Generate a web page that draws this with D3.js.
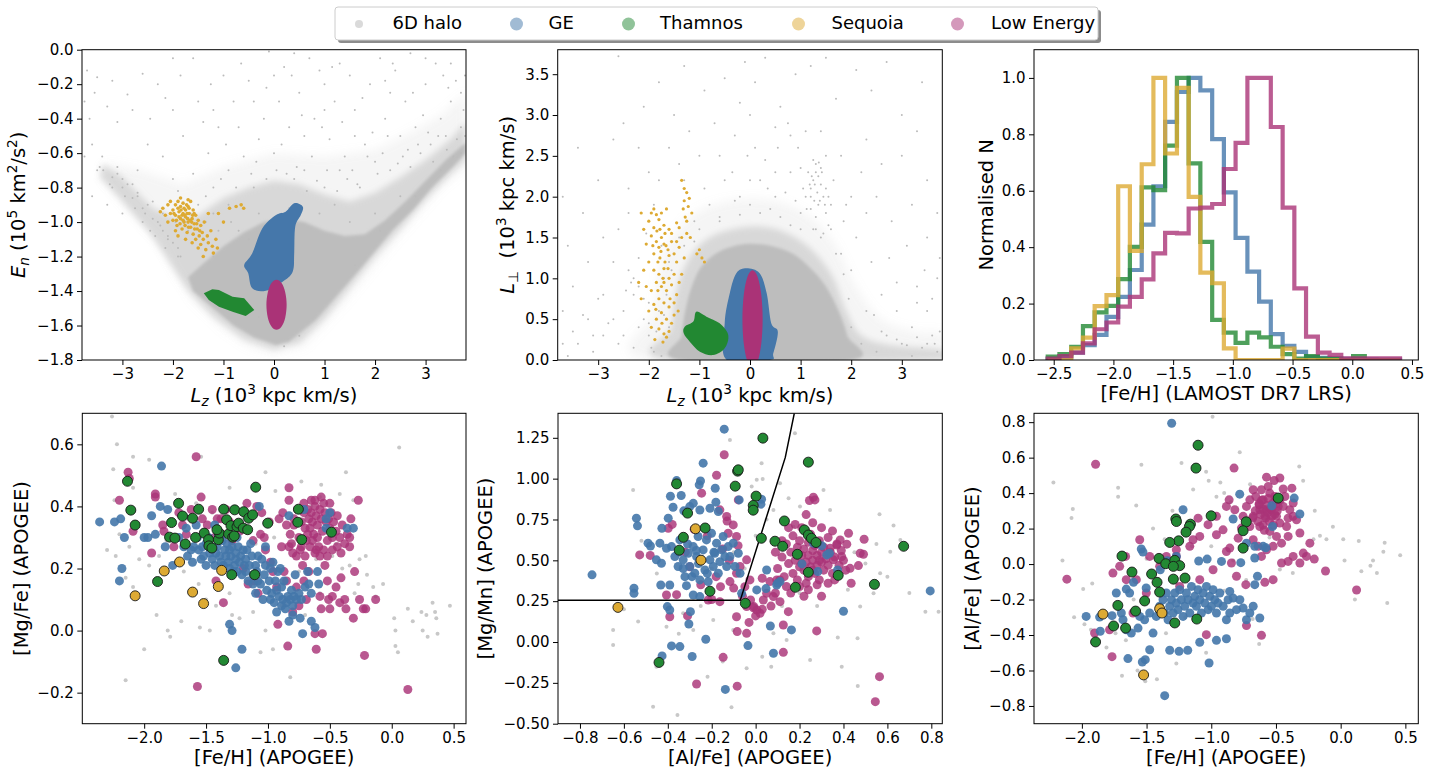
<!DOCTYPE html>
<html><head><meta charset="utf-8">
<script src="https://cdn.jsdelivr.net/npm/d3@7"></script>
<style>body{margin:0;background:#fff;}svg{display:block;font-family:"DejaVu Sans",sans-serif;}</style>
</head><body><svg id="c" width="1432" height="776"></svg>
<script>
// ---------------- DATA ----------------
const legendLabels = ["6D halo","GE","Thamnos","Sequoia","Low Energy"];

// histogram (LAMOST [Fe/H]) shared bin edges and normalised counts
const histEdges = [-2.55,-2.452,-2.353,-2.255,-2.157,-2.058,-1.960,-1.862,-1.763,-1.665,-1.567,-1.468,-1.370,-1.272,-1.173,-1.075,-0.977,-0.878,-0.780,-0.682,-0.583,-0.485,-0.387,-0.288,-0.190,-0.092,0.007,0.105,0.203,0.302,0.40];
const histGE = [0.005,0.012,0.026,0.053,0.089,0.153,0.224,0.319,0.48,0.616,0.844,0.95,1.0,0.956,0.783,0.594,0.433,0.313,0.207,0.092,0.05,0.029,0.01,0.008,0.006,0.004,0.003,0.002,0.001,0.001];
const histThamnos = [0.012,0.021,0.047,0.12,0.169,0.192,0.287,0.401,0.612,0.602,0.76,1.0,0.697,0.419,0.142,0.097,0.061,0.097,0.080,0.047,0.021,0.005,0.014,0.005,0.005,0,0.014,0,0,0];
const histSequoia = [0,0,0.041,0.079,0.191,0.23,0.616,0.387,0.694,1.0,0.732,0.965,0.578,0.31,0.272,0.041,0,0,0,0,0.04,0,0,0,0,0,0,0,0,0];
const histLowEnergy = [0.005,0.014,0.026,0.059,0.109,0.133,0.189,0.224,0.286,0.378,0.451,0.449,0.537,0.54,0.553,0.677,0.77,1.0,1.0,0.826,0.54,0.254,0.083,0.026,0.018,0.006,0.006,0.006,0.006,0.006];

// tick labels
const ticksTLx = [-3,-2,-1,0,1,2,3], ticksTLy = [0,-0.2,-0.4,-0.6,-0.8,-1.0,-1.2,-1.4,-1.6,-1.8];
const ticksTMx = [-3,-2,-1,0,1,2,3], ticksTMy = [0,0.5,1.0,1.5,2.0,2.5,3.0,3.5];
const ticksTRx = [-2.5,-2.0,-1.5,-1.0,-0.5,0.0,0.5], ticksTRy = [0,0.2,0.4,0.6,0.8,1.0];
const ticksBLx = [-2.0,-1.5,-1.0,-0.5,0.0,0.5], ticksBLy = [-0.2,0.0,0.2,0.4,0.6];
const ticksBMx = [-0.8,-0.6,-0.4,-0.2,0.0,0.2,0.4,0.6,0.8], ticksBMy = [-0.5,-0.25,0,0.25,0.5,0.75,1.0,1.25];
const ticksBRx = [-2.0,-1.5,-1.0,-0.5,0.0,0.5], ticksBRy = [-0.8,-0.6,-0.4,-0.2,0.0,0.2,0.4,0.6,0.8];

// ---- top-left: E_n vs Lz (halo density outlines: sparse / medium / dense) ----
const tlHaloOuter = [[-0.03,-1.76],[0.6,-1.72],[1.4,-1.46],[2.35,-1.12],[3.3,-0.8],[3.8,-0.68],[3.8,-0.25],[3.3,-0.38],[2.7,-0.48],[2.0,-0.58],[1.0,-0.62],[0.0,-0.6],[-1.0,-0.68],[-1.8,-0.78],[-2.6,-0.7],[-3.3,-0.66],[-3.4,-0.74],[-2.9,-0.92],[-2.3,-1.1],[-2.0,-1.27],[-1.6,-1.45],[-1.0,-1.62],[-0.5,-1.72]];
const tlHaloMid = [[0.0,-1.74],[0.5,-1.70],[1.0,-1.56],[1.5,-1.38],[2.0,-1.2],[2.5,-1.04],[3.0,-0.87],[3.5,-0.72],[3.8,-0.64],[3.8,-0.42],[3.5,-0.52],[3.0,-0.64],[2.5,-0.74],[2.0,-0.83],[1.5,-0.88],[1.0,-0.84],[0.5,-0.78],[0.0,-0.76],[-0.5,-0.8],[-1.0,-0.86],[-1.5,-0.96],[-1.9,-0.98],[-2.4,-0.92],[-3.0,-0.74],[-3.4,-0.66],[-3.45,-0.74],[-3.0,-0.88],[-2.5,-1.05],[-2.1,-1.22],[-1.7,-1.40],[-1.2,-1.55],[-0.6,-1.68]];
const tlHaloCore = [[0.04,-1.713],[0.30,-1.694],[0.83,-1.568],[1.29,-1.413],[1.69,-1.278],[2.02,-1.162],[2.35,-1.046],[2.75,-0.93],[3.14,-0.795],[3.54,-0.679],[3.79,-0.601],[3.79,-0.54],[3.4,-0.64],[3.0,-0.76],[2.6,-0.88],[2.2,-0.99],[1.8,-1.07],[1.4,-1.08],[1.0,-1.05],[0.6,-1.0],[0.2,-0.98],[-0.2,-1.0],[-0.6,-1.06],[-1.0,-1.14],[-1.4,-1.24],[-1.7,-1.32],[-1.6,-1.40],[-1.2,-1.50],[-0.8,-1.60],[-0.4,-1.67]];
const tlHaloPoints = [[-3.7,-0.12],[-3.5,-0.16],[-3.3,-0.33],[-3.6,-0.55],[-3.4,-0.62],[-3.1,-0.42],[-2.9,-0.26],[-2.6,-0.14],[-2.3,-0.2],[-2.0,-0.35],[-1.8,-0.5],[-2.5,-0.55],[-2.7,-0.7],[-3.0,-0.75],[-3.2,-0.8],[-2.2,-0.62],[-1.6,-0.72],[-1.3,-0.6],[-1.1,-0.45],[-0.8,-0.3],[-0.5,-0.18],[-0.1,-0.01],[0.2,-0.1],[0.5,-0.25],[0.8,-0.4],[1.1,-0.52],[1.4,-0.62],[1.6,-0.35],[1.9,-0.2],[2.1,-0.05],[2.4,-0.12],[2.6,-0.3],[2.8,-0.45],[3.0,-0.2],[3.2,-0.08],[3.5,-0.3],[3.7,-0.45],[3.6,-0.18],[3.3,-0.4],[2.9,-0.6],[2.5,-0.5],[2.2,-0.4],[1.8,-0.55],[1.5,-0.15],[1.2,-0.3],[0.9,-0.12],[0.6,-0.5],[0.3,-0.45],[0.0,-0.6],[-0.3,-0.52],[-0.6,-0.62],[-0.9,-0.7],[-1.2,-0.8],[-1.5,-0.9],[-1.9,-0.82],[-2.4,-0.88],[-2.6,-1.0],[-2.1,-1.1],[-1.9,-1.2],[-1.2,-0.95],[-0.4,-0.8],[0.4,-0.75],[1.0,-0.8],[1.3,-0.7],[1.7,-0.8],[2.3,-0.7],[2.7,-0.68],[3.1,-0.55],[3.4,-0.5],[3.7,-0.6],[-3.5,-0.7],[-3.3,-0.9],[-3.0,-0.95],[-2.8,-0.78],[0.7,-0.05],[1.0,-0.2],[-1.0,-0.15],[-1.5,-0.3],[-2.0,-0.05],[2.0,-0.65],[1.6,-0.5],[0.1,-0.3],[-0.2,-0.4],[-0.7,-0.45],[3.75,-0.35],[3.78,-0.5],[3.5,-0.08],[2.7,-0.02],[-1.6,-0.05],[-0.9,-0.9],[0.6,-0.7],[1.2,-0.9],[-2.7,-0.85],[-3.1,-0.68],[-2.2,-0.95],[-1.7,-1.05],[-1.2,-1.2],[-0.7,-1.05],[-0.5,-1.1],[1.6,-1.25],[2.1,-1.05],[2.8,-0.85],[3.3,-0.7],[-1.0,-1.45],[-0.3,-1.55],[0.5,-1.66],[0.2,-1.72],[-3.2,-0.74],[-3.0,-0.8],[-2.8,-0.86],[-2.6,-0.92],[-2.4,-0.98],[-2.2,-1.05],[-2.0,-1.12],[-1.85,-1.2],[-3.1,-0.72],[-2.9,-0.78],[-2.7,-0.83],[-2.5,-0.9],[-2.3,-1.0],[-2.1,-1.08],[-1.9,-1.15],[-3.45,-0.68],[-3.65,-0.4],[-3.75,-0.62],[0.4,-0.02],[1.3,-0.08],[-0.4,-0.3],[2.3,-0.25],[3.45,-0.22],[-3.55,-0.25],[-3.2,-0.18],[-2.8,-0.35],[-2.45,-0.4],[-2.15,-0.28],[-1.85,-0.15],[-1.4,-0.42],[-1.25,-0.2],[-0.95,-0.55],[-0.65,-0.08],[-0.35,-0.65],[-0.15,-0.22],[0.15,-0.55],[0.35,-0.15],[0.55,-0.38],[0.75,-0.62],[0.95,-0.45],[1.15,-0.1],[1.35,-0.42],[1.55,-0.7],[1.75,-0.28],[1.95,-0.48],[2.15,-0.6],[2.35,-0.08],[2.55,-0.62],[2.75,-0.25],[2.95,-0.38],[3.15,-0.65],[3.35,-0.15],[3.55,-0.62],[3.7,-0.25],[3.62,-0.52],[3.42,-0.58],[3.25,-0.5],[3.05,-0.48],[2.85,-0.55],[2.65,-0.58],[2.45,-0.66],[2.25,-0.5],[2.05,-0.72],[1.85,-0.62],[1.65,-0.78],[1.45,-0.75],[1.25,-0.82],[1.05,-0.7],[0.85,-0.76],[0.65,-0.82],[0.45,-0.68],[0.25,-0.72],[0.05,-0.7],[-0.15,-0.75],[-0.45,-0.72],[-0.75,-0.8],[-1.05,-0.75],[-1.35,-0.85],[-1.65,-0.95],[-1.95,-1.0],[-2.25,-1.02],[-2.45,-1.05],[-3.38,-0.7],[-3.25,-0.78],[-2.95,-0.85],[-2.75,-0.92],[-2.55,-0.95],[-2.35,-1.08],[-2.15,-1.15],[-1.35,-1.0],[-1.1,-1.05],[-0.85,-1.0],[-0.3,-0.95],[0.3,-0.92],[0.9,-0.95],[1.5,-1.0],[2.0,-0.95],[2.5,-0.85],[-3.6,-0.85],[-3.75,-0.3],[-2.0,-0.75],[-1.2,-0.35],[0.0,-0.15],[1.0,-0.35],[2.2,-0.18],[3.0,-0.05],[3.78,-0.15]];
const tlGEOutline = [[0.40,-0.891],[0.57,-0.911],[0.53,-0.959],[0.42,-1.027],[0.40,-1.181],[0.37,-1.288],[0.17,-1.346],[-0.16,-1.398],[-0.43,-1.384],[-0.51,-1.297],[-0.59,-1.249],[-0.43,-1.181],[-0.23,-1.036],[0.04,-0.959],[0.23,-0.940]];
const tlThamnosOutline = [[-1.39,-1.413],[-1.22,-1.390],[-1.09,-1.394],[-0.82,-1.433],[-0.59,-1.442],[-0.39,-1.510],[-0.56,-1.545],[-0.82,-1.520],[-1.09,-1.491],[-1.29,-1.452]];
const tlLowEnergyOutline = [[0.25,-1.48],[0.223,-1.408],[0.15,-1.354],[0.05,-1.335],[-0.05,-1.354],[-0.123,-1.408],[-0.15,-1.48],[-0.123,-1.553],[-0.05,-1.606],[0.05,-1.625],[0.15,-1.606],[0.223,-1.553]];
const tlSequoia = [[-2.25,-0.94],[-2.2,-0.92],[-2.15,-0.96],[-2.1,-0.9],[-2.05,-0.95],[-2.05,-0.88],[-2.0,-0.93],[-2.0,-0.99],[-1.95,-0.9],[-1.95,-0.96],[-1.92,-1.02],[-1.9,-0.88],[-1.88,-0.94],[-1.85,-0.98],[-1.85,-0.91],[-1.82,-1.04],[-1.8,-0.95],[-1.8,-0.89],[-1.78,-1.0],[-1.75,-0.93],[-1.75,-0.97],[-1.72,-1.06],[-1.7,-0.91],[-1.7,-1.0],[-1.68,-0.95],[-1.65,-1.03],[-1.65,-0.88],[-1.62,-0.98],[-1.6,-1.07],[-1.6,-0.93],[-1.58,-1.01],[-1.55,-0.96],[-1.55,-1.1],[-1.52,-1.04],[-1.5,-0.99],[-1.48,-1.08],[-1.45,-1.02],[-1.45,-1.13],[-1.42,-1.06],[-1.4,-1.1],[-1.38,-1.0],[-1.35,-1.16],[-1.32,-1.08],[-1.3,-1.12],[-1.25,-1.05],[-1.22,-1.14],[-1.2,-1.18],[-1.15,-1.1],[-1.12,-1.15],[-1.9,-1.08],[-1.75,-1.1],[-1.62,-1.12],[-1.5,-1.15],[-1.4,-1.2],[-2.1,-1.0],[-1.85,-0.86],[-1.7,-0.87],[-1.95,-1.05],[-0.88,-0.92],[-0.75,-0.91],[-0.65,-0.9],[-0.6,-0.92],[-1.1,-0.95],[-1.3,-0.95],[-1.0,-1.0],[-1.78,-0.92],[-1.66,-0.99],[-1.88,-0.97],[-1.72,-0.95],[-1.58,-0.95],[-1.82,-0.96],[-1.76,-1.02],[-1.68,-0.92],[-1.63,-1.0],[-1.9,-0.92],[-1.98,-0.95],[-1.8,-0.99],[-1.73,-0.9],[-1.57,-1.04],[-1.47,-1.05],[-1.77,-0.96],[-1.71,-0.98],[-1.84,-0.93],[-1.69,-1.03],[-1.61,-0.96],[-1.53,-1.01],[-1.93,-0.99],[-1.86,-1.01]];

// ---- top-middle: L_perp vs Lz ----
const tmHaloOuter = [[-2.0,0],[-1.9,0.6],[-1.7,1.3],[-1.2,1.75],[-0.4,1.95],[0.5,1.95],[1.2,1.75],[1.7,1.4],[2.1,0.9],[2.6,0.5],[3.3,0.35],[3.8,0.32],[3.8,0]];
const tmHaloMid = [[-1.6,0],[-1.55,0.4],[-1.45,0.85],[-1.2,1.25],[-0.8,1.5],[-0.2,1.62],[0.4,1.62],[0.9,1.5],[1.3,1.3],[1.65,1.0],[1.9,0.6],[2.2,0.3],[2.8,0.18],[3.8,0.12],[3.8,0]];
const tmHaloCore = [[-1.38,0],[-1.35,0.3],[-1.28,0.6],[-1.15,0.9],[-0.95,1.15],[-0.6,1.33],[-0.1,1.42],[0.4,1.40],[0.85,1.3],[1.2,1.12],[1.5,0.9],[1.75,0.6],[1.92,0.3],[2.0,0]];
const tmHaloPoints = [[-2.6,3.72],[-1.3,3.6],[-0.9,3.3],[-0.5,3.45],[-0.2,3.15],[0.1,3.4],[0.3,3.7],[0.6,3.1],[0.9,3.5],[1.2,3.6],[1.7,3.2],[2.1,3.55],[2.7,3.65],[3.0,3.0],[3.3,2.8],[-1.5,3.0],[-2.2,2.6],[-2.7,2.7],[-3.0,2.2],[-3.3,1.8],[-3.6,1.4],[-3.5,0.9],[-3.2,0.5],[-2.9,0.3],[-3.0,0.75],[-2.7,1.2],[-2.4,1.8],[-2.0,2.3],[-1.6,2.6],[-1.2,2.8],[-0.7,2.9],[-0.3,2.75],[0.1,2.6],[0.5,2.85],[0.8,2.75],[0.75,2.9],[0.55,2.6],[1.0,2.35],[1.4,2.8],[1.8,2.5],[2.2,2.3],[2.5,2.0],[2.8,1.7],[3.2,1.9],[3.5,1.5],[3.7,1.0],[3.5,0.6],[3.2,0.4],[2.9,0.6],[2.6,0.8],[2.4,1.2],[2.1,1.5],[1.9,1.9],[-0.5,2.2],[-0.2,2.0],[0.2,2.2],[0.5,2.0],[0.8,2.3],[-0.8,1.9],[-1.1,1.7],[-1.4,1.5],[-2.3,1.0],[-2.5,0.6],[-2.2,0.4],[-2.6,0.2],[-3.4,0.2],[-3.7,0.6],[-2.0,0.7],[-1.9,1.3],[0.0,1.9],[1.2,2.0],[1.6,1.6],[1.0,1.8],[-1.3,2.2],[-1.9,1.9],[3.6,0.3],[3.4,0.15],[3.0,0.2],[2.6,0.35],[3.7,0.1],[0.3,2.45],[-0.05,2.5],[1.2,2.1],[1.25,2.2],[1.3,2.3],[1.35,2.25],[1.3,2.4],[1.4,2.15],[1.45,2.0],[1.35,1.9],[1.5,1.8],[1.2,1.85],[1.1,2.0],[1.4,2.35],[1.55,1.65],[1.5,2.1],[1.3,1.75],[1.25,1.6],[1.6,1.9],[1.15,2.3],[1.22,2.25],[1.28,2.15],[1.33,2.05],[1.38,1.95],[1.42,2.3],[1.27,1.95],[1.18,2.15],[1.12,1.85],[1.48,1.9],[1.36,2.42],[1.3,1.6],[1.45,1.55],[1.55,2.0],[1.05,2.1],[1.25,2.45],[-2.3,0.8],[-2.2,0.9],[-2.1,0.5],[-2.0,0.3],[-1.9,0.1],[-1.8,0.6],[-1.7,1.0],[-1.6,0.4],[-1.6,1.2],[-2.4,1.1],[-2.35,0.95],[-1.75,1.4],[-3.6,0.05],[-3.1,0.1],[-2.8,0.45],[2.3,0.6],[2.0,1.1],[1.8,1.3],[3.3,0.9],[3.75,0.35],[-0.6,1.75],[0.4,1.85],[0.8,1.65],[-1.1,1.45],[-3.7,0.2],[-3.5,0.35],[-3.3,0.55],[-3.1,0.3],[-2.9,0.8],[-2.7,0.5],[-2.5,0.3],[-2.45,0.85],[-2.3,0.15],[-2.2,1.25],[-2.1,0.75],[-2.05,1.55],[-2.0,0.45],[-1.95,0.15],[-1.85,0.35],[-1.75,0.05],[-1.7,0.55],[-3.2,1.2],[-2.9,1.5],[-2.6,1.6],[-2.4,2.1],[-2.5,2.9],[-1.8,2.2],[-1.4,2.4],[-1.0,2.5],[-0.9,2.1],[-0.6,2.5],[-0.35,2.3],[0.0,2.2],[0.35,2.1],[0.7,2.05],[0.95,2.6],[1.1,2.8],[1.5,2.5],[1.65,2.2],[1.85,1.7],[2.0,2.0],[2.3,1.8],[2.3,2.7],[2.6,2.4],[2.75,1.25],[2.9,0.95],[3.1,1.4],[3.3,0.7],[3.45,1.1],[3.6,0.75],[3.75,1.25],[3.5,2.2],[3.7,1.8],[3.0,2.5],[2.45,0.55],[2.7,0.3],[2.9,0.25],[3.1,0.18],[3.3,0.28],[3.5,0.2],[3.65,0.2],[3.2,0.05],[2.5,0.1],[2.2,0.2],[2.0,0.4],[1.95,0.75],[1.85,1.05],[1.7,1.3],[1.4,1.5],[1.0,1.6],[0.6,1.75],[0.2,1.8],[-0.2,1.78],[-0.6,1.7],[-1.0,1.6],[-1.3,1.4],[-1.55,1.1],[-1.65,0.8],[0.9,1.95],[-0.3,1.95],[0.5,2.3],[-0.1,3.65],[-1.8,3.4],[2.4,3.3],[1.5,3.7],[3.4,3.4],[-3.4,2.6],[-3.7,2.0],[-2.1,3.1],[0.0,3.0]];
const tmGEOutline = [[-0.46,0],[-0.50,0.449],[-0.40,0.817],[-0.27,1.062],[-0.07,1.123],[0.19,1.062],[0.33,0.817],[0.42,0.449],[0.55,0.347],[0.46,0.082],[0.39,0]];
const tmThamnosOutline = [[-1.29,0.408],[-1.12,0.47],[-1.06,0.592],[-0.86,0.531],[-0.60,0.449],[-0.43,0.306],[-0.50,0.143],[-0.73,0.061],[-0.99,0.102],[-1.19,0.225],[-1.31,0.327]];
const tmLowEnergyOutline = [[0.25,0.5],[0.223,0.8],[0.15,1.02],[0.05,1.1],[-0.05,1.02],[-0.123,0.8],[-0.15,0.5],[-0.123,0.2],[-0.05,-0.02],[0.05,-0.1],[0.15,-0.02],[0.223,0.2]];
const tmSequoia = [[-1.35,2.2],[-1.3,2.1],[-1.25,2.05],[-1.2,1.98],[-1.3,1.95],[-1.22,1.88],[-1.15,1.8],[-1.28,1.75],[-1.9,1.85],[-1.95,1.8],[-1.85,1.78],[-2.0,1.7],[-1.8,1.72],[-1.7,1.65],[-1.6,1.6],[-1.55,1.55],[-1.45,1.68],[-1.4,1.62],[-1.35,1.5],[-1.25,1.55],[-1.18,1.5],[-1.75,1.5],[-1.85,1.45],[-1.95,1.52],[-2.05,1.42],[-2.1,1.6],[-1.8,1.38],[-1.7,1.42],[-1.62,1.35],[-1.55,1.45],[-1.5,1.3],[-1.4,1.38],[-1.9,1.3],[-1.78,1.25],[-1.68,1.2],[-1.6,1.28],[-1.45,1.2],[-1.3,1.25],[-2.0,1.2],[-2.1,1.1],[-1.9,1.1],[-1.8,1.05],[-1.7,1.12],[-1.6,1.0],[-1.5,1.05],[-1.85,0.95],[-1.75,0.9],[-1.95,0.85],[-2.05,0.9],[-1.65,0.85],[-1.55,0.92],[-1.45,0.8],[-1.8,0.75],[-1.7,0.7],[-1.9,0.68],[-2.0,0.6],[-1.6,0.65],[-1.5,0.7],[-1.75,0.58],[-1.85,0.5],[-1.65,0.5],[-1.55,0.45],[-1.95,0.4],[-1.8,0.38],[-1.7,0.32],[-1.6,0.35],[-1.88,0.25],[-1.72,0.22],[-1.65,0.28],[-2.15,1.8],[-1.05,1.3],[-0.95,1.25],[-0.9,1.2],[-1.0,1.35],[-1.4,0.95],[-1.35,1.05],[-1.45,1.45],[-2.2,0.95],[-2.15,0.75],[-1.5,0.55],[-1.42,0.6],[-1.58,0.75],[-1.75,1.8],[-1.65,1.85],[-1.32,1.85],[-1.25,1.7],[-1.78,1.6],[-1.68,1.55],[-1.9,1.62],[-1.72,1.0],[-1.82,1.2],[-1.76,1.33],[-1.66,1.4],[-1.84,1.58],[-1.7,0.95],[-1.82,0.85],[-1.62,1.12],[-1.92,1.4],[-1.74,0.45],[-1.86,0.62]];

// ---- bottom-left: [Mg/Fe] vs [Fe/H] ----
const blHalo = [[-2.26,0.69],[-2.22,0.60],[-2.25,0.52],[-2.09,0.56],[-1.96,0.55],[-1.54,0.56],[-1.31,0.46],[-1.02,0.51],[-0.94,0.45],[-0.73,0.48],[-0.57,0.47],[-0.37,0.51],[-0.31,0.42],[0.06,0.59],[-0.07,0.15],[0.02,0.04],[0.03,0.0],[0.13,0.07],[0.17,0.03],[0.25,0.0],[0.29,-0.02],[0.33,0.09],[0.35,0.06],[0.36,0.04],[0.28,0.05],[0.37,-0.01],[0.47,0.08],[0.24,0.06],[0.03,-0.05],[0.05,-0.07],[-2.23,0.24],[-2.15,0.17],[-2.09,0.14],[-2.0,-0.06],[-1.90,0.05],[-1.81,0.0],[-1.79,-0.02],[-1.70,0.03],[-1.55,0.01],[-1.47,0.0],[-1.42,0.08],[-1.29,0.05],[-1.23,0.04],[-1.06,-0.07],[-1.02,0.0],[-0.96,-0.06],[-0.82,-0.15],[-0.58,0.12],[-0.27,0.15],[-0.20,0.18],[-0.15,0.14],[-0.13,0.11],[-2.12,0.27],[-2.04,0.23],[-1.96,0.21],[-1.88,0.24],[-2.15,-0.16],[-1.68,0.19],[-1.56,0.15],[-0.75,0.19],[-0.61,0.23],[-0.48,0.24],[-0.34,0.21],[-0.26,0.23],[-0.21,0.24],[-0.42,0.44],[-0.58,0.43],[-1.82,0.29],[-1.50,0.10],[-1.31,0.12],[-1.12,0.06],[-0.89,0.08],[-2.24,0.42],[-2.09,0.46],[-1.4,0.30],[-1.1,0.28],[-0.95,0.30],[-1.2,0.36],[-0.9,0.16],[-0.7,0.05],[-0.4,0.20],[-0.3,0.12],[-2.3,0.26],[-2.2,0.31],[-1.65,0.36],[-1.45,0.38],[-1.0,0.34],[-0.8,0.28],[-0.5,0.30],[-0.45,0.28],[-0.65,0.40],[-1.75,0.44],[-1.58,0.41]];
const blGE = [[-2.36,0.35],[-2.24,0.35],[-2.19,0.36],[-2.16,0.30],[-2.18,0.20],[-2.20,0.16],[-2.0,0.30],[-1.97,0.30],[-1.91,0.31],[-1.94,0.37],[-1.87,0.40],[-1.86,0.53],[-1.81,0.39],[-1.83,0.27],[-1.77,0.21],[-1.72,0.30],[-1.68,0.27],[-1.66,0.33],[-1.65,0.24],[-1.62,0.26],[-1.61,0.22],[-1.60,0.27],[-1.58,0.34],[-1.57,0.30],[-1.56,0.26],[-1.54,0.23],[-1.53,0.27],[-1.52,0.24],[-1.50,0.28],[-1.50,0.21],[-1.47,0.25],[-1.46,0.27],[-1.45,0.23],[-1.43,0.34],[-1.43,0.21],[-1.42,0.25],[-1.41,0.27],[-1.39,0.24],[-1.38,0.22],[-1.37,0.29],[-1.36,0.21],[-1.35,0.26],[-1.34,0.24],[-1.33,0.28],[-1.32,0.22],[-1.31,0.20],[-1.31,0.26],[-1.30,0.24],[-1.29,0.27],[-1.27,0.21],[-1.26,0.23],[-1.26,0.25],[-1.25,0.19],[-1.25,0.30],[-1.24,0.27],[-1.23,0.22],[-1.22,0.24],[-1.21,0.18],[-1.20,0.26],[-1.19,0.21],[-1.18,0.19],[-1.18,0.23],[-1.17,0.26],[-1.16,0.16],[-1.15,0.21],[-1.13,0.24],[-1.12,0.18],[-1.12,0.15],[-1.10,0.21],[-1.10,0.12],[-1.09,0.19],[-1.08,0.24],[-1.08,0.16],[-1.07,0.40],[-1.06,0.15],[-1.04,0.10],[-1.03,0.18],[-1.02,0.21],[-1.02,0.27],[-1.01,0.13],[-0.99,0.16],[-0.98,0.10],[-0.98,0.20],[-0.97,0.12],[-0.96,0.22],[-0.95,0.09],[-0.94,0.16],[-0.93,0.13],[-0.92,0.19],[-0.91,0.11],[-0.89,0.08],[-0.89,0.14],[-0.88,0.10],[-0.87,0.16],[-0.86,0.07],[-0.85,0.09],[-0.84,0.11],[-0.83,0.03],[-0.83,0.37],[-0.82,0.10],[-0.81,0.13],[-0.80,0.08],[-0.79,0.11],[-0.78,0.18],[-0.77,0.10],[-0.75,0.12],[-0.74,0.04],[-0.73,0.10],[-0.72,-0.01],[-0.71,0.39],[-0.70,0.14],[-0.68,0.19],[-0.67,0.15],[-0.65,0.12],[-0.65,0.03],[-0.62,0.01],[-0.60,0.19],[-0.59,0.15],[-0.53,0.36],[-0.53,0.33],[-0.50,0.38],[-0.36,0.33],[-0.31,0.33],[-1.31,0.02],[-1.29,0.0],[-1.21,-0.06],[-1.26,-0.12],[-1.48,0.30],[-1.40,0.31],[-1.28,0.19],[-1.14,0.28],[-1.05,0.23],[-0.93,0.06],[-0.80,0.05],[-0.90,0.20]];
const blLowEnergy = [[-2.13,0.51],[-2.12,0.49],[-2.20,0.42],[-2.09,0.32],[-1.94,0.25],[-1.91,0.44],[-1.91,0.43],[-1.85,0.34],[-1.84,0.32],[-1.77,0.30],[-1.76,0.27],[-1.72,0.38],[-1.69,0.34],[-1.66,0.31],[-1.62,0.39],[-1.61,0.36],[-1.58,0.56],[-1.57,-0.18],[-1.54,0.43],[-1.53,0.36],[-1.49,0.34],[-1.45,0.39],[-1.43,0.30],[-1.42,0.16],[-1.41,0.36],[-1.38,0.36],[-1.37,0.31],[-1.36,0.09],[-1.34,0.39],[-1.31,0.35],[-1.29,0.29],[-1.23,0.32],[-1.20,0.20],[-1.17,0.41],[-1.16,0.15],[-1.12,0.29],[-1.11,0.16],[-1.09,0.40],[-1.08,0.12],[-1.06,0.31],[-1.05,0.38],[-1.03,0.30],[-1.02,0.26],[-0.99,0.35],[-0.98,0.22],[-0.96,0.19],[-0.93,0.14],[-0.92,0.02],[-0.91,0.36],[-0.89,0.27],[-0.87,0.19],[-0.85,0.16],[-0.84,-0.05],[-0.83,0.46],[-0.83,0.42],[-0.81,0.28],[-0.80,0.06],[-0.79,0.34],[-0.77,0.14],[-0.75,0.08],[-0.73,0.27],[-0.73,0.39],[-0.72,0.21],[-0.71,0.16],[-0.69,0.10],[-0.67,0.19],[-0.65,0.42],[-0.62,-0.01],[-0.61,-0.06],[-0.61,0.26],[-0.58,0.11],[-0.57,0.07],[-0.56,-0.01],[-0.54,0.21],[-0.52,0.16],[-0.51,0.10],[-0.50,0.07],[-0.48,0.11],[-0.45,0.14],[-0.42,0.09],[-0.41,0.17],[-0.38,0.10],[-0.37,0.07],[-0.34,0.30],[-0.31,0.04],[-0.30,0.19],[-0.27,0.42],[-0.26,0.10],[-0.23,0.07],[-0.22,-0.08],[-0.21,0.07],[-0.13,0.10],[0.13,-0.19],[-0.88,0.38],[-0.85,0.34],[-0.82,0.31],[-0.79,0.36],[-0.76,0.39],[-0.75,0.30],[-0.73,0.35],[-0.71,0.38],[-0.70,0.33],[-0.69,0.29],[-0.68,0.39],[-0.67,0.36],[-0.66,0.33],[-0.65,0.38],[-0.64,0.35],[-0.63,0.31],[-0.62,0.40],[-0.61,0.37],[-0.60,0.34],[-0.59,0.27],[-0.58,0.39],[-0.57,0.36],[-0.56,0.32],[-0.55,0.41],[-0.54,0.38],[-0.53,0.35],[-0.52,0.29],[-0.51,0.36],[-0.50,0.33],[-0.49,0.38],[-0.48,0.30],[-0.47,0.35],[-0.45,0.32],[-0.44,0.37],[-0.42,0.30],[-0.40,0.34],[-0.38,0.28],[-0.36,0.31],[-0.34,0.27],[-0.33,0.36],[-0.83,0.27],[-0.80,0.25],[-0.77,0.24],[-0.74,0.26],[-0.70,0.24],[-0.66,0.27],[-0.62,0.25],[-0.58,0.24],[-0.55,0.26],[-0.52,0.24],[-0.48,0.26],[-0.44,0.27],[-0.41,0.25],[-0.62,0.42],[-0.57,0.43],[-0.50,0.41],[-0.71,0.41],[-0.64,0.29],[-0.60,0.30],[-0.68,0.31]];
const blThamnos = [[-2.135,0.481],[-2.108,0.388],[-2.073,0.340],[-1.892,0.158],[-1.795,0.301],[-1.779,0.348],[-1.752,0.298],[-1.722,0.410],[-1.690,0.369],[-1.668,0.279],[-1.609,0.362],[-1.585,0.300],[-1.560,0.391],[-1.515,0.314],[-1.480,0.293],[-1.477,0.273],[-1.453,0.266],[-1.401,0.293],[-1.393,0.314],[-1.412,0.325],[-1.358,0.391],[-1.334,0.357],[-1.318,0.311],[-1.299,0.338],[-1.285,0.301],[-1.269,0.389],[-1.272,0.305],[-1.250,0.335],[-1.237,0.346],[-1.196,0.383],[-1.199,0.330],[-1.164,0.325],[-1.156,0.362],[-1.124,0.373],[-1.099,0.462],[-1.107,0.180],[-1.293,0.180],[-1.358,-0.096],[-1.002,0.346],[-0.754,0.391],[-0.759,0.349],[-0.727,0.293],[-0.487,0.317]];
const blSequoia = [[-2.073,0.112],[-1.838,0.192],[-1.714,0.221],[-1.609,0.124],[-1.520,0.087],[-1.401,0.142],[-1.374,0.194]];

// ---- bottom-middle: [Mg/Mn] vs [Al/Fe] ----
const bmBoundaryX = [-0.9,-0.07,0.135,0.176];
const bmBoundaryY = [0.255,0.255,1.13,1.40];
const bmHalo = [[-0.558,0.931],[-0.649,0.073],[-0.649,-0.018],[-0.535,0.125],[-0.467,-0.396],[-0.356,-0.447],[-0.452,-0.151],[-0.219,-0.212],[-0.110,-0.400],[-0.041,-0.161],[0.030,-0.090],[0.071,-0.151],[0.179,1.278],[0.027,1.094],[0.032,0.998],[0.309,0.931],[0.465,-0.269],[0.464,0.023],[0.374,0.027],[0.392,-0.151],[0.564,0.782],[0.628,0.713],[0.773,0.186],[0.833,0.186],[0.005,0.993],[-0.018,0.952],[0.111,0.972],[-0.117,1.237],[-0.406,0.094],[-0.330,0.176],[-0.284,0.074],[-0.193,0.135],[-0.102,0.074],[0.081,0.053],[0.141,0.012],[0.248,-0.110],[0.476,0.217],[0.537,0.298],[0.567,0.421],[0.613,0.553],[0.659,0.625],[0.202,0.829],[0.339,0.808],[0.081,0.808],[0.172,0.706],[-0.3,0.6],[-0.2,0.45],[-0.1,0.55],[0.2,0.5],[0.3,0.6],[0.45,0.55],[0.5,0.48],[0.55,0.6],[-0.45,0.42],[-0.6,0.2],[0.0,0.65],[0.05,0.75],[-0.52,0.62],[-0.25,0.22],[0.12,0.22],[0.42,0.32],[0.6,0.4],[0.7,0.3],[-0.05,0.45],[0.15,0.88],[-0.35,0.05],[-0.15,-0.12],[0.2,0.3],[0.28,0.22]];
const bmGE = [[-0.745,0.411],[-0.143,1.303],[-0.239,1.095],[-0.257,0.962],[-0.251,0.986],[-0.184,0.941],[-0.388,0.892],[-0.360,0.988],[-0.339,0.897],[-0.376,0.825],[-0.327,0.803],[-0.300,0.829],[-0.543,0.758],[-0.538,0.711],[-0.398,0.758],[-0.427,0.696],[-0.284,0.849],[-0.254,0.808],[-0.208,0.819],[-0.181,0.856],[-0.170,0.799],[-0.075,0.870],[0.027,0.874],[0.024,0.844],[-0.490,0.605],[-0.479,0.588],[-0.452,0.503],[-0.429,0.482],[-0.436,0.605],[-0.406,0.574],[-0.383,0.584],[-0.368,0.523],[-0.353,0.462],[-0.345,0.625],[-0.330,0.503],[-0.322,0.400],[-0.307,0.543],[-0.300,0.462],[-0.284,0.584],[-0.277,0.421],[-0.269,0.523],[-0.262,0.646],[-0.254,0.380],[-0.246,0.503],[-0.239,0.564],[-0.231,0.441],[-0.224,0.625],[-0.216,0.370],[-0.208,0.503],[-0.201,0.666],[-0.193,0.462],[-0.186,0.543],[-0.178,0.605],[-0.170,0.421],[-0.163,0.492],[-0.155,0.564],[-0.148,0.646],[-0.140,0.523],[-0.132,0.462],[-0.125,0.584],[-0.117,0.523],[-0.102,0.605],[-0.094,0.462],[-0.079,0.543],[-0.071,0.421],[-0.064,0.298],[-0.391,0.349],[-0.315,0.345],[-0.284,0.288],[-0.254,0.278],[-0.554,0.329],[-0.554,0.298],[-0.432,0.349],[-0.402,0.217],[-0.391,0.196],[-0.297,0.186],[-0.304,0.110],[-0.345,-0.028],[-0.383,-0.024],[-0.426,-0.085],[-0.289,-0.089],[-0.227,0.017],[-0.138,-0.290],[-0.035,-0.022],[0.005,0.319],[0.047,0.327],[0.100,0.360],[0.111,0.370],[0.050,0.441],[0.096,0.349],[0.067,0.098],[0.163,0.074],[0.081,-0.069],[0.400,0.188],[0.795,0.313],[0.211,0.478],[0.263,0.605],[0.283,0.431],[0.324,0.533],[0.336,0.543],[0.301,0.590],[0.373,0.441],[-0.33,0.45],[-0.29,0.40],[-0.26,0.48],[-0.22,0.42],[-0.35,0.55],[-0.31,0.60],[-0.27,0.56],[-0.19,0.55]];
const bmLowEnergy = [[-0.143,1.146],[-0.178,1.021],[-0.246,0.911],[-0.079,0.870],[-0.398,0.696],[-0.132,0.768],[-0.102,0.717],[-0.087,0.646],[-0.163,0.809],[-0.125,0.666],[-0.528,0.533],[-0.406,0.288],[-0.391,0.155],[-0.216,0.257],[-0.163,0.247],[-0.160,0.339],[-0.117,0.370],[-0.087,0.421],[-0.071,0.462],[-0.041,0.503],[-0.049,0.339],[-0.026,0.380],[-0.023,0.257],[-0.008,0.217],[0.005,0.196],[0.020,0.176],[0.035,0.257],[0.050,0.298],[0.065,0.370],[-0.041,0.217],[-0.087,0.155],[-0.084,0.064],[-0.041,0.053],[-0.148,-0.094],[-0.269,-0.257],[-0.084,-0.270],[0.081,0.278],[0.111,0.247],[0.149,0.186],[0.126,0.104],[0.126,-0.063],[0.278,0.068],[0.096,0.380],[0.245,0.866],[0.263,0.886],[0.564,-0.212],[0.545,-0.365],[0.491,0.537],[0.476,0.543],[0.435,0.360],[0.415,0.599],[0.423,0.666],[0.385,0.625],[0.370,0.594],[0.339,0.574],[0.494,0.629],[0.430,0.451],[0.392,0.523],[0.354,0.503],[0.468,0.468],[0.10,0.45],[0.12,0.52],[0.13,0.40],[0.14,0.60],[0.15,0.48],[0.16,0.55],[0.17,0.42],[0.17,0.65],[0.18,0.50],[0.19,0.58],[0.19,0.38],[0.20,0.46],[0.20,0.62],[0.21,0.53],[0.21,0.70],[0.22,0.44],[0.22,0.57],[0.23,0.49],[0.23,0.36],[0.24,0.61],[0.24,0.53],[0.25,0.46],[0.25,0.66],[0.26,0.56],[0.26,0.50],[0.27,0.42],[0.27,0.59],[0.28,0.53],[0.28,0.47],[0.29,0.62],[0.29,0.38],[0.30,0.55],[0.30,0.49],[0.31,0.44],[0.31,0.58],[0.32,0.51],[0.33,0.64],[0.33,0.47],[0.34,0.55],[0.35,0.42],[0.36,0.52],[0.37,0.60],[0.38,0.47],[0.39,0.56],[0.40,0.50],[0.14,0.34],[0.16,0.30],[0.20,0.34],[0.24,0.32],[0.28,0.35],[0.33,0.36],[0.12,0.62],[0.18,0.72],[0.26,0.73],[0.30,0.70],[0.35,0.68],[0.09,0.55],[0.11,0.38],[0.27,0.87],[0.23,0.78],[0.15,0.70],[0.36,0.38],[0.41,0.44],[0.09,0.30],[0.22,0.28],[0.30,0.28],[0.26,0.44],[0.24,0.40],[0.29,0.50],[0.21,0.48],[-0.28,0.69],[-0.22,0.65],[-0.15,0.57],[-0.12,0.50],[-0.18,0.40],[-0.25,0.35],[-0.32,0.55],[-0.38,0.72],[-0.48,0.53],[-0.30,0.46],[-0.10,0.33],[-0.06,0.28],[-0.01,0.21],[0.00,0.16],[0.03,0.20],[-0.03,0.12],[0.07,0.22],[0.03,0.39],[-0.08,0.59],[-0.13,0.74],[-0.36,0.29],[-0.31,0.16],[-0.2,0.26]];
const bmThamnos = [[0.033,1.248],[0.240,1.101],[-0.082,1.046],[-0.079,1.054],[-0.093,0.954],[-0.360,0.968],[0.002,0.893],[-0.011,0.836],[-0.011,0.807],[-0.310,0.789],[-0.230,0.698],[-0.329,0.641],[0.131,0.741],[0.026,0.635],[0.088,0.617],[0.123,0.586],[0.222,0.686],[0.240,0.655],[0.254,0.635],[0.275,0.609],[0.190,0.537],[-0.348,0.562],[0.240,0.427],[0.181,0.335],[0.376,0.408],[-0.208,0.311],[-0.047,0.237],[0.541,0.353],[0.674,0.586],[-0.440,-0.125]];
const bmSequoia = [[-0.274,0.693],[-0.249,0.501],[-0.627,0.212]];

// ---- bottom-right: [Al/Fe] vs [Fe/H] ----
const brHalo = [[-2.22,0.46],[-2.07,0.31],[-2.08,0.26],[-2.15,0.02],[-1.72,0.43],[-1.72,0.38],[-1.54,0.56],[-1.58,0.33],[-1.23,0.57],[-0.99,0.83],[-0.78,0.63],[-1.04,0.52],[-1.02,0.47],[-0.32,0.55],[-0.29,0.47],[-0.16,0.16],[0.14,0.13],[0.03,0.02],[0.25,0.02],[0.33,0.07],[0.34,0.12],[0.46,0.05],[0.28,-0.05],[0.16,-0.04],[0.36,-0.22],[0.11,-0.20],[-2.06,-0.30],[-1.98,-0.34],[-1.93,-0.37],[-1.81,-0.47],[-1.69,-0.63],[-1.57,-0.60],[-1.42,-0.65],[-1.51,-0.66],[-1.27,-0.56],[-1.04,-0.50],[-0.63,-0.45],[-0.68,-0.31],[-1.99,-0.14],[-1.92,-0.11],[-1.50,0.03],[-1.36,0.14],[-1.15,0.10],[-1.14,0.42],[-0.96,0.38],[-0.93,0.46],[-0.21,0.14],[-0.11,0.14],[-0.06,0.21],[0.02,0.14],[0.23,-0.01],[-0.47,-0.03],[-0.37,-0.05],[-0.73,-0.09],[-0.83,0.02],[-1.27,-0.11],[-1.35,-0.39],[-1.74,-0.39],[-1.66,-0.43],[-0.9,0.4],[-0.85,0.35],[-0.7,0.45],[-1.3,0.3],[-1.45,0.2],[-1.6,-0.2],[-1.2,-0.3],[-0.9,-0.15],[-0.55,0.15],[-0.45,0.35],[-0.2,0.3],[-1.0,0.1]];
const brGE = [[-1.306,0.794],[-1.218,0.306],[-1.541,0.085],[-1.528,0.068],[-1.503,-0.135],[-1.601,-0.103],[-1.657,-0.141],[-1.631,-0.163],[-1.734,-0.163],[-1.863,-0.299],[-1.967,-0.295],[-1.858,-0.379],[-1.767,-0.291],[-1.695,-0.276],[-1.682,-0.314],[-1.657,-0.370],[-1.618,-0.389],[-1.566,-0.361],[-1.553,-0.295],[-1.515,-0.314],[-1.476,-0.276],[-1.450,-0.389],[-1.425,-0.295],[-1.399,-0.238],[-1.373,-0.201],[-1.360,-0.276],[-1.347,-0.163],[-1.334,-0.314],[-1.321,-0.238],[-1.308,-0.201],[-1.295,-0.276],[-1.282,-0.163],[-1.270,-0.220],[-1.257,-0.257],[-1.244,-0.145],[-1.231,-0.201],[-1.218,-0.295],[-1.205,-0.238],[-1.192,-0.163],[-1.179,-0.201],[-1.166,-0.276],[-1.153,-0.126],[-1.141,-0.220],[-1.128,-0.182],[-1.115,-0.238],[-1.102,-0.145],[-1.089,-0.201],[-1.076,-0.276],[-1.063,-0.163],[-1.050,-0.220],[-1.037,-0.126],[-1.024,-0.257],[-1.012,-0.182],[-0.999,-0.238],[-0.986,-0.145],[-0.973,-0.201],[-0.960,-0.276],[-0.947,-0.220],[-0.934,-0.163],[-0.908,-0.238],[-0.883,-0.314],[-0.870,-0.201],[-0.857,-0.276],[-0.831,-0.192],[-0.805,-0.257],[-0.779,-0.201],[-0.754,-0.248],[-0.728,-0.314],[-0.702,-0.276],[-0.676,-0.238],[-0.625,-0.304],[-0.664,-0.116],[-0.643,-0.069],[-0.728,0.118],[-0.772,0.008],[-0.664,0.100],[-0.664,0.034],[-0.599,0.100],[-0.578,0.092],[-0.780,0.394],[-0.831,0.254],[-0.532,0.329],[-0.527,0.212],[-0.359,0.372],[-0.315,0.282],[-1.510,-0.539],[-1.533,-0.552],[-1.360,-0.742],[-1.249,-0.492],[-1.182,-0.486],[-1.089,-0.441],[-1.017,-0.558],[-0.960,-0.430],[-0.883,-0.421],[-1.097,0.017],[-1.032,0.028],[-0.921,0.015],[-0.857,-0.154],[-1.394,-0.032],[-1.340,0.019],[-1.270,0.043],[-1.644,-0.533],[-1.476,-0.483],[-1.321,-0.486]];
const brLowEnergy = [[-1.894,0.563],[-2.116,-0.085],[-0.824,0.541],[-0.573,0.490],[-0.470,0.485],[-0.514,0.471],[-0.444,0.423],[-0.377,0.428],[-0.406,0.259],[-0.238,0.118],[-0.204,0.028],[-0.117,-0.039],[0.123,-0.146],[-0.612,-0.402],[-1.038,-0.398],[-1.767,-0.522],[-1.902,-0.389],[-1.786,-0.370],[-1.605,-0.276],[-1.502,-0.163],[-1.270,0.081],[-1.166,0.100],[-1.244,-0.126],[-1.089,-0.088],[-0.986,-0.032],[-1.089,0.156],[-1.102,0.259],[-1.025,0.222],[-0.960,0.165],[-0.883,0.071],[-0.844,0.006],[-0.805,-0.069],[-0.733,-0.116],[-0.728,-0.347],[-0.638,0.100],[-0.586,-0.103],[-0.522,-0.088],[-0.457,0.006],[-0.406,0.015],[-0.367,0.043],[-0.315,0.006],[-0.289,0.062],[-0.264,0.043],[-0.857,0.090],[-0.909,0.193],[-0.960,0.269],[-0.862,0.362],[-0.883,0.325],[-0.818,0.306],[-0.792,0.146],[-0.767,0.203],[-0.702,0.212],[-0.676,0.269],[-0.656,0.381],[-0.630,0.334],[-0.599,0.362],[-0.573,0.306],[-0.548,0.400],[-0.522,0.344],[-0.496,0.269],[-0.470,0.362],[-0.444,0.325],[-0.418,0.212],[-0.393,0.306],[-0.367,0.344],[-0.341,0.250],[-0.315,0.175],[-0.496,0.156],[-0.548,0.184],[-0.457,0.118],[-0.573,0.081],[-0.612,0.043],[-0.676,0.137],[-0.728,0.325],[-0.754,0.269],[-0.612,0.419],[-0.560,0.438],[-0.509,0.381],[-0.431,0.381],[-0.367,0.269],[-0.702,0.362],[-0.676,0.419],[-0.625,0.306],[-0.586,0.269],[-0.535,0.306],[-0.483,0.325],[-0.470,0.231],[-0.406,0.156],[-0.625,0.212],[-0.522,0.100],[-1.141,0.137],[-1.270,0.043],[-1.347,0.043],[-1.399,-0.013],[-1.476,0.043],[-1.553,0.137],[-1.662,0.043],[-1.708,-0.013],[-1.760,-0.051],[-1.657,-0.088],[-1.579,-0.088],[-0.62,0.28],[-0.60,0.31],[-0.58,0.26],[-0.56,0.29],[-0.55,0.24],[-0.53,0.27],[-0.52,0.22],[-0.60,0.22],[-0.64,0.24],[-0.66,0.30],[-0.63,0.34],[-0.57,0.33],[-0.54,0.31],[-0.51,0.28],[-0.49,0.30],[-0.59,0.19],[-0.68,0.26],[-0.61,0.36],[-0.56,0.37],[-0.50,0.34]];
const brThamnos = [[-1.102,0.670],[-1.118,0.541],[-0.483,0.372],[-0.730,0.238],[-0.754,0.188],[-0.754,0.090],[-1.001,0.272],[-1.161,0.225],[-1.169,0.212],[-1.274,0.254],[-1.269,0.240],[-1.195,0.180],[-1.252,0.131],[-1.321,0.122],[-1.690,0.045],[-1.404,0.032],[-1.352,0.002],[-1.282,0.021],[-1.244,-0.009],[-1.293,-0.013],[-1.293,-0.085],[-1.203,-0.079],[-1.461,-0.056],[-1.613,-0.045],[-1.419,-0.103],[-1.399,-0.158],[-1.515,-0.208],[-1.585,-0.265],[-1.722,-0.233],[-1.755,-0.349],[-1.662,-0.361],[-1.282,-0.332],[-1.112,-0.310],[-1.894,-0.439]];
const brSequoia = [[-1.837,-0.282],[-1.399,-0.252],[-1.381,-0.276],[-1.523,-0.625]];

// ---------------- DRAWING ----------------
const COL = {halo:"#bbbbbb", ge:"#4477AA", th:"#228833", sq:"#DDAA33", le:"#AA3377"};
const svg = d3.select("#c");
const defs = svg.append("defs");
function blurFilter(id, sd) {
  defs.append("filter").attr("id", id).attr("x", "-20%").attr("y", "-20%").attr("width", "140%").attr("height", "140%")
    .append("feGaussianBlur").attr("stdDeviation", sd);
}
blurFilter("blurA", 5); blurFilter("blurM", 3); blurFilter("blurB", 1.5); blurFilter("blurC", 0.6);

let clipN = 0;
function makePanel(left, top, w, h, xd, yd) {
  const g = svg.append("g").attr("transform", `translate(${left},${top})`);
  const id = "clip" + (clipN++);
  defs.append("clipPath").attr("id", id).append("rect").attr("width", w).attr("height", h);
  const c = g.append("g").attr("clip-path", `url(#${id})`);
  const x = d3.scaleLinear().domain(xd).range([0, w]);
  const y = d3.scaleLinear().domain(yd).range([h, 0]);
  return {g, c, x, y, w, h};
}
function axes(p, xt, yt, xf, yf) {
  const ax = p.g.append("g").attr("transform", `translate(0,${p.h})`)
    .call(d3.axisBottom(p.x).tickValues(xt).tickFormat(d3.format(xf)).tickSize(5).tickPadding(3.5).tickSizeOuter(0));
  const ay = p.g.append("g")
    .call(d3.axisLeft(p.y).tickValues(yt).tickFormat(d3.format(yf)).tickSize(5).tickPadding(3.5).tickSizeOuter(0));
  [ax, ay].forEach(a => {
    a.attr("font-family", null).attr("font-size", 15);
    a.select(".domain").remove();
    a.selectAll("line").attr("stroke", "#000").attr("stroke-width", 1);
    a.selectAll("text").attr("fill", "#000");
  });
  p.g.append("rect").attr("width", p.w).attr("height", p.h).attr("fill", "none").attr("stroke", "#000").attr("stroke-width", 1);
}
function rich(t, parts, size) {
  parts.forEach(([s, st]) => {
    const ts = t.append("tspan").text(s);
    if (st.includes("i")) ts.attr("font-style", "italic");
    if (st.includes("sub")) ts.attr("baseline-shift", -4).attr("font-size", size * 0.7);
    if (st.includes("sup")) ts.attr("baseline-shift", 8).attr("font-size", size * 0.7);
  });
}
function xlabel(p, parts, baseY) {
  const t = p.g.append("text").attr("x", p.w / 2).attr("y", baseY).attr("text-anchor", "middle")
    .attr("font-size", 19.5).attr("fill", "#000").style("white-space", "pre");
  rich(t, parts, 19.5);
}
function ylabel(p, parts, baseX) {
  const t = p.g.append("text").attr("transform", `translate(${baseX},${p.h / 2}) rotate(-90)`).attr("text-anchor", "middle")
    .attr("font-size", 19.5).attr("fill", "#000").style("white-space", "pre");
  rich(t, parts, 19.5);
}
function dots(p, data, r, fill, op, stroke) {
  p.c.append("g").selectAll("circle").data(data).join("circle")
    .attr("cx", d => p.x(d[0])).attr("cy", d => p.y(d[1])).attr("r", r)
    .attr("fill", fill).attr("fill-opacity", op)
    .attr("stroke", stroke || "none").attr("stroke-width", stroke ? 0.9 : 0);
}
function area(p, pts, fill, op, filt, curve) {
  const line = d3.line().x(d => p.x(d[0])).y(d => p.y(d[1])).curve(curve || d3.curveLinearClosed);
  const el = p.c.append("path").attr("d", line(pts)).attr("fill", fill).attr("fill-opacity", op);
  if (filt) el.attr("filter", `url(#${filt})`);
}

// ---- Top-left ----
const pTL = makePanel(82, 49.7, 384, 310.3, [-3.8, 3.8], [-1.8, 0]);
area(pTL, tlHaloOuter, COL.halo, 0.15, "blurA");
area(pTL, tlHaloMid, COL.halo, 0.5, "blurM");
area(pTL, tlHaloCore, "#bdbdbd", 1, "blurB");
dots(pTL, tlHaloPoints, 1, COL.halo, 1);
area(pTL, tlGEOutline, COL.ge, 1, "blurC", d3.curveCardinalClosed);
area(pTL, tlThamnosOutline, COL.th, 1, "blurC");
dots(pTL, tlSequoia, 1.8, COL.sq, 1);
area(pTL, tlLowEnergyOutline, COL.le, 1, null, d3.curveCardinalClosed);
axes(pTL, ticksTLx, ticksTLy, "d", ".1f");
xlabel(pTL, [["L","i"],["z","sub i"],[" (10",""],["3","sup"],[" kpc km/s)",""]], 352.5);
ylabel(pTL, [["E","i"],["n","sub i"],[" (10",""],["5","sup"],[" km",""],["2","sup"],["/s",""],["2","sup"],[")",""]], -57.5);

// ---- Top-middle ----
const pTM = makePanel(557.7, 49.7, 384.6, 310.3, [-3.8, 3.8], [0, 3.8]);
area(pTM, tmHaloOuter, COL.halo, 0.15, "blurA", d3.curveCardinalClosed);
area(pTM, tmHaloMid, COL.halo, 0.5, "blurM", d3.curveCardinalClosed);
area(pTM, tmHaloCore, "#bdbdbd", 1, "blurB", d3.curveCardinalClosed);
dots(pTM, tmHaloPoints, 1, COL.halo, 1);
dots(pTM, tmSequoia, 1.6, COL.sq, 1);
area(pTM, tmGEOutline, COL.ge, 1, "blurC", d3.curveCardinalClosed);
area(pTM, tmThamnosOutline, COL.th, 1, "blurC", d3.curveCardinalClosed);
area(pTM, tmLowEnergyOutline, COL.le, 1, null, d3.curveCardinalClosed);
axes(pTM, ticksTMx, ticksTMy, "d", ".1f");
xlabel(pTM, [["L","i"],["z","sub i"],[" (10",""],["3","sup"],[" kpc km/s)",""]], 352.5);
ylabel(pTM, [["L","i"],["\u22A5","sub"],["  (10",""],["3","sup"],[" kpc km/s)",""]], -44);

// ---- Top-right histogram ----
const pTR = makePanel(1034, 49.7, 384.3, 310.3, [-2.665, 0.553], [0, 1.1]);
function stepPts(edges, h) {
  const pts = [[edges[0], 0]];
  h.forEach((v, i) => { pts.push([edges[i], v]); pts.push([edges[i + 1], v]); });
  pts.push([edges[edges.length - 1], 0]);
  return pts;
}
[[histGE, COL.ge], [histThamnos, COL.th], [histSequoia, COL.sq], [histLowEnergy, COL.le]].forEach(([h, col]) => {
  const line = d3.line().x(d => pTR.x(d[0])).y(d => pTR.y(d[1]));
  pTR.c.append("path").attr("d", line(stepPts(histEdges, h))).attr("fill", "none")
    .attr("stroke", col).attr("stroke-width", 4.2).attr("stroke-opacity", 0.8).attr("stroke-linejoin", "miter");
});
axes(pTR, ticksTRx, ticksTRy, ".1f", ".1f");
xlabel(pTR, [["[Fe/H] (LAMOST DR7 LRS)",""]], 350.8);
ylabel(pTR, [["Normalised N",""]], -41);

// ---- Bottom-left ----
const pBL = makePanel(82.3, 413.3, 383.7, 310.4, [-2.5, 0.6], [-0.3, 0.7]);
dots(pBL, blHalo, 2, "#c8c8c8", 1);
dots(pBL, blLowEnergy, 4.5, COL.le, 0.82);
dots(pBL, blGE, 4.5, COL.ge, 0.9);
dots(pBL, blSequoia, 5, COL.sq, 1, "#1a1a1a");
dots(pBL, blThamnos, 5, COL.th, 1, "#1a1a1a");
axes(pBL, ticksBLx, ticksBLy, ".1f", ".1f");
xlabel(pBL, [["[Fe/H] (APOGEE)",""]], 350.7);
ylabel(pBL, [["[Mg/Fe] (APOGEE)",""]], -54.8);

// ---- Bottom-middle ----
const pBM = makePanel(558, 413.3, 384.3, 310.4, [-0.9, 0.85], [-0.5, 1.4]);
dots(pBM, bmHalo, 2, "#c8c8c8", 1);
dots(pBM, bmLowEnergy, 4.5, COL.le, 0.82);
dots(pBM, bmGE, 4.5, COL.ge, 0.9);
pBM.c.append("path").attr("d", d3.line().x(d => pBM.x(d[0])).y(d => pBM.y(d[1]))(bmBoundaryX.map((v, i) => [v, bmBoundaryY[i]])))
  .attr("fill", "none").attr("stroke", "#000").attr("stroke-width", 1.5);
dots(pBM, bmSequoia, 5, COL.sq, 1, "#1a1a1a");
dots(pBM, bmThamnos, 5, COL.th, 1, "#1a1a1a");
axes(pBM, ticksBMx, ticksBMy, ".1f", ".2f");
xlabel(pBM, [["[Al/Fe] (APOGEE)",""]], 350.7);
ylabel(pBM, [["[Mg/Mn] (APOGEE)",""]], -66.5);

// ---- Bottom-right ----
const pBR = makePanel(1034, 413.3, 384.3, 310.4, [-2.37, 0.6], [-0.9, 0.85]);
dots(pBR, brHalo, 2, "#c8c8c8", 1);
dots(pBR, brLowEnergy, 4.5, COL.le, 0.82);
dots(pBR, brGE, 4.5, COL.ge, 0.9);
dots(pBR, brSequoia, 5, COL.sq, 1, "#1a1a1a");
dots(pBR, brThamnos, 5, COL.th, 1, "#1a1a1a");
axes(pBR, ticksBRx, ticksBRy, ".1f", ".1f");
xlabel(pBR, [["[Fe/H] (APOGEE)",""]], 350.7);
ylabel(pBR, [["[Al/Fe] (APOGEE)",""]], -55);

// ---- Legend ----
const lg = svg.append("g");
lg.append("rect").attr("x", 338).attr("y", 10).attr("width", 763).attr("height", 33).attr("rx", 3).attr("fill", "#8c8c8c");
lg.append("rect").attr("x", 335).attr("y", 7).attr("width", 763).attr("height", 33).attr("rx", 3).attr("fill", "#fff").attr("stroke", "#cccccc").attr("stroke-width", 1);
const legCols = [COL.halo, COL.ge, COL.th, COL.sq, COL.le];
const legMarkX = [359, 516.5, 628.5, 798.5, 957.5];
const legTextX = [392.5, 548.5, 660, 831.5, 991];
legendLabels.forEach((lab, i) => {
  lg.append("circle").attr("cx", legMarkX[i]).attr("cy", 24).attr("r", i === 0 ? 4 : 6.5)
    .attr("fill", legCols[i]).attr("fill-opacity", i === 0 ? 0.55 : 0.5);
  lg.append("text").attr("x", legTextX[i]).attr("y", 29).attr("font-size", 18).attr("fill", "#000").text(lab);
});
</script></body></html>
